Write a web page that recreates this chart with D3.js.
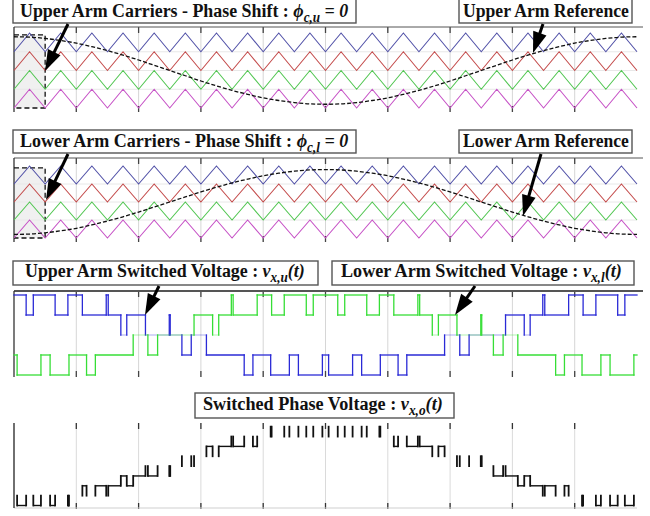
<!DOCTYPE html>
<html><head><meta charset="utf-8">
<script src="https://cdn.jsdelivr.net/npm/d3@7"></script>
<style>body{margin:0;background:#fff}svg{display:block}text{white-space:pre}</style>
</head><body>
<svg id="c" width="650" height="516"></svg>
<script>
// ---------------- data ----------------
const carrierT = [0,0.5,1,1.5,2,2.5,3,3.5,4,4.5,5,5.5,6,6.5,7,7.5,8,8.5,9,9.5,10,10.5,11,11.5,12,12.5,13,13.5,14,14.5,15,15.5,16,16.5,17,17.5,18,18.5,19,19.5,20];
const carrierShape = [0,1,0,1,0,1,0,1,0,1,0,1,0,1,0,1,0,1,0,1,0,1,0,1,0,1,0,1,0,1,0,1,0,1,0,1,0,1,0,1,0];
const carrierLevels = [3,2,1,0];
const carrierColors = ["#5252a8","#c44c4c","#52c652","#c652c6"];
const refT = [0,0.5,1,1.5,2,2.5,3,3.5,4,4.5,5,5.5,6,6.5,7,7.5,8,8.5,9,9.5,10,10.5,11,11.5,12,12.5,13,13.5,14,14.5,15,15.5,16,16.5,17,17.5,18,18.5,19,19.5,20];
const upperRef = [3.80,3.78,3.71,3.60,3.46,3.27,3.06,2.82,2.56,2.28,2.00,1.72,1.44,1.18,0.94,0.73,0.54,0.40,0.29,0.22,0.20,0.22,0.29,0.40,0.54,0.73,0.94,1.18,1.44,1.72,2.00,2.28,2.56,2.82,3.06,3.27,3.46,3.60,3.71,3.78,3.80];
const lowerRef = [0.20,0.22,0.29,0.40,0.54,0.73,0.94,1.18,1.44,1.72,2.00,2.28,2.56,2.82,3.06,3.27,3.46,3.60,3.71,3.78,3.80,3.78,3.71,3.60,3.46,3.27,3.06,2.82,2.56,2.28,2.00,1.72,1.44,1.18,0.94,0.73,0.54,0.40,0.29,0.22,0.20];
const upperSwT = [0,0.39,0.62,1.32,1.73,2.195,2.961,3.025,3.43,3.62,4.22,4.985,5.015,5.39,5.69,6.177,7.39,7.67,8.24,8.84,9.13,9.90,10.10,10.87,11.16,11.76,12.33,12.61,13.823,14.31,14.61,15.78,16.38,16.57,16.975,17.039,17.805,18.27,18.68,19.38,19.61,20];
const upperSwL = [4,3,4,3,4,3,4,3,2,3,2,3,2,1,2,1,0,1,0,1,0,1,0,1,0,1,0,1,2,1,2,3,2,3,4,3,4,3,4,3,4,4];
const lowerSwT = [0,0.10,0.865,1.159,1.765,2.329,2.612,3.826,4.298,4.61,5.78,6.376,6.572,6.977,7.035,7.807,8.27,8.676,9.383,9.607,10.393,10.617,11.324,11.73,12.193,12.965,13.023,13.428,13.624,14.22,14.985,15.015,15.39,15.702,16.174,17.388,17.671,18.235,18.841,19.135,19.90,20];
const lowerSwL = [1,0,1,0,1,0,1,2,1,2,3,2,3,4,3,4,3,4,3,4,3,4,3,4,3,4,3,2,3,2,3,2,1,2,1,0,1,0,1,0,1,1];
const phaseT = [0,0.10,0.39,0.62,0.865,1.159,1.32,1.73,1.765,2.195,2.329,2.612,2.961,3.025,3.43,3.62,3.826,4.22,4.298,4.61,4.985,5.015,5.39,5.69,5.78,6.177,6.376,6.572,6.977,7.035,7.39,7.67,7.807,8.24,8.27,8.676,8.84,9.13,9.383,9.607,9.90,10.10,10.393,10.617,10.87,11.16,11.324,11.73,11.76,12.193,12.33,12.61,12.965,13.023,13.428,13.624,13.823,14.22,14.31,14.61,14.985,15.015,15.39,15.702,15.78,16.174,16.38,16.57,16.975,17.039,17.388,17.671,17.805,18.235,18.27,18.68,18.841,19.135,19.38,19.61,19.90,20];
const phaseL = [-3,-4,-3,-4,-3,-4,-3,-4,-3,-2,-3,-2,-3,-2,-1,-2,-1,0,-1,0,-1,0,1,0,1,2,1,2,3,2,3,2,3,4,3,4,3,4,3,4,3,4,3,4,3,4,3,4,3,2,3,2,3,2,1,2,1,0,1,0,1,0,-1,0,-1,-2,-1,-2,-3,-2,-3,-2,-3,-4,-3,-4,-3,-4,-3,-4,-3,-3];
const gridTicks = [0,2,4,6,8,10,12,14,16,18];

// ---------------- layout ----------------
const svg = d3.select("#c");
const x = d3.scaleLinear().domain([0,20]).range([14,637]);
const panels = [
  {top:27, bot:112, y:d3.scaleLinear().domain([0,4]).range([108,33])},
  {top:158, bot:242, y:d3.scaleLinear().domain([0,4]).range([238,166])},
  {top:291, bot:377, y:d3.scaleLinear().domain([0,4]).range([375,295])},
  {top:423, bot:508, y:d3.scaleLinear().domain([-4,4]).range([505.5,426.7])}
];
const FONT = "'Liberation Serif','Times New Roman',serif";

function grid(p, hLevels, topBorder){
  const g = svg.append("g");
  g.selectAll("line.v").data(gridTicks.slice(1)).join("line")
    .attr("x1",d=>x(d)).attr("x2",d=>x(d)).attr("y1",p.top).attr("y2",p.bot)
    .attr("stroke","#d6d6d6").attr("stroke-width",1);
  g.selectAll("line.h").data(hLevels).join("line")
    .attr("x1",x(0)).attr("x2",x(20)).attr("y1",d=>p.y(d)).attr("y2",d=>p.y(d))
    .attr("stroke","#e8e8e8").attr("stroke-width",1);
  g.selectAll("line.tt").data(gridTicks.slice(1)).join("line")
    .attr("x1",d=>x(d)).attr("x2",d=>x(d)).attr("y1",p.top).attr("y2",p.top+6)
    .attr("stroke","#444").attr("stroke-width",1.3);
  g.selectAll("line.tb").data(gridTicks.slice(1)).join("line")
    .attr("x1",d=>x(d)).attr("x2",d=>x(d)).attr("y1",p.bot-6).attr("y2",p.bot)
    .attr("stroke","#444").attr("stroke-width",1.3);
  if (topBorder) g.append("line").attr("x1",x(0)).attr("x2",643).attr("y1",p.top).attr("y2",p.top)
    .attr("stroke","#555").attr("stroke-width",topBorder);
  g.append("line").attr("x1",x(0)).attr("x2",x(0)).attr("y1",p.top).attr("y2",p.bot)
    .attr("stroke","#333").attr("stroke-width",1.3);
}

// panels 1 & 2 : carriers + references
[[panels[0],upperRef],[panels[1],lowerRef]].forEach(([p,ref])=>{
  svg.append("rect").attr("x",x(0)).attr("y",p.y(3.9)).attr("width",x(1)-x(0)).attr("height",p.y(0)-p.y(3.9))
    .attr("fill","#f0f0f0");
  grid(p,[1,2,3],1);
  svg.append("path").attr("d",`M${x(0)},${p.y(3.9)}H${x(1)}V${p.y(0)}H${x(0)}`)
    .attr("fill","none").attr("stroke","#111").attr("stroke-width",1.3).attr("stroke-dasharray","5,3");
  carrierLevels.forEach((lv,i)=>{
    const line = d3.line().x((d,j)=>x(carrierT[j])).y((d,j)=>p.y(lv+carrierShape[j]));
    svg.append("path").attr("d",line(carrierT)).attr("fill","none")
      .attr("stroke",carrierColors[i]).attr("stroke-width",1.1);
  });
  const rl = d3.line().curve(d3.curveMonotoneX).x((d,j)=>x(refT[j])).y(d=>p.y(d));
  svg.append("path").attr("d",rl(ref)).attr("fill","none").attr("stroke","#111")
    .attr("stroke-width",1.3).attr("stroke-dasharray","4,2");
});

// panel 3 : arm switched voltages (horizontal runs at the middle level appear faint)
grid(panels[2],[],2);
[[upperSwT,upperSwL,"#2a2ad6"],[lowerSwT,lowerSwL,"#36de36"]].forEach(([T,L,c])=>{
  const p = panels[2];
  const segs = [];
  for (let j=0;j<T.length-1;j++){
    segs.push({x1:x(T[j]),x2:x(T[j+1]),y1:p.y(L[j]),y2:p.y(L[j]),o:L[j]===2?0.3:1});
    if (j>0 && L[j]!==L[j-1]) segs.push({x1:x(T[j]),x2:x(T[j]),y1:p.y(L[j-1]),y2:p.y(L[j]),o:1});
  }
  svg.append("g").selectAll("line").data(segs).join("line")
    .attr("x1",d=>d.x1).attr("x2",d=>d.x2).attr("y1",d=>d.y1).attr("y2",d=>d.y2)
    .attr("stroke",c).attr("stroke-opacity",d=>d.o).attr("stroke-width",1.3).attr("stroke-linecap","square");
});

// panel 4 : phase voltage
(function(){
  const p = panels[3];
  const g = svg.append("g");
  g.selectAll("line.v").data(gridTicks.slice(1)).join("line")
    .attr("x1",d=>x(d)).attr("x2",d=>x(d)).attr("y1",p.top).attr("y2",p.bot)
    .attr("stroke","#dadada");
  g.selectAll("line.tt").data(gridTicks.slice(1)).join("line")
    .attr("x1",d=>x(d)).attr("x2",d=>x(d)).attr("y1",p.top).attr("y2",p.top+6)
    .attr("stroke","#333").attr("stroke-width",1.3);
  g.selectAll("line.tb").data(gridTicks.slice(1)).join("line")
    .attr("x1",d=>x(d)).attr("x2",d=>x(d)).attr("y1",p.bot-5).attr("y2",p.bot+1)
    .attr("stroke","#333").attr("stroke-width",1.3);
  g.append("line").attr("x1",x(0)).attr("x2",x(20)).attr("y1",p.bot).attr("y2",p.bot).attr("stroke","#cfcfcf");
  g.append("line").attr("x1",x(0)).attr("x2",x(0)).attr("y1",p.top).attr("y2",p.bot).attr("stroke","#222").attr("stroke-width",1.3);
  // the printed trace only shows its flat runs on some levels; all steps are kept
  const shownLevels = [-4,-2,-1,2];
  const hs = [], vs = [];
  for (let j=0;j<phaseT.length-1;j++){
    if (shownLevels.includes(phaseL[j])) hs.push([phaseT[j],phaseT[j+1],phaseL[j]]);
    if (j>0 && phaseL[j]!==phaseL[j-1]) vs.push([phaseT[j],phaseL[j-1],phaseL[j]]);
  }
  svg.append("g").selectAll("line").data(hs).join("line")
    .attr("x1",d=>x(d[0])).attr("x2",d=>x(d[1])).attr("y1",d=>p.y(d[2])).attr("y2",d=>p.y(d[2]))
    .attr("stroke","#111").attr("stroke-width",1.4);
  svg.append("g").selectAll("line").data(vs).join("line")
    .attr("x1",d=>x(d[0])).attr("x2",d=>x(d[0])).attr("y1",d=>p.y(d[1])).attr("y2",d=>p.y(d[2]))
    .attr("stroke","#111").attr("stroke-width",1.8).attr("stroke-linecap","square");
})();

// ---------------- labels ----------------
function label(box, x0, x1, base, parts){
  svg.append("rect").attr("x",box[0]).attr("y",box[1]).attr("width",box[2]-box[0]).attr("height",box[3]-box[1])
    .attr("fill","#fff").attr("stroke","#555").attr("stroke-width",1.4);
  const t = svg.append("text").attr("font-family",FONT).attr("font-weight","bold").attr("font-size",19).attr("fill","#111");
  let sub=false;
  parts.forEach(([s,k])=>{
    const ts = t.append("tspan").text(s);
    if (k==="i"){ ts.attr("font-style","italic"); if(sub){ts.attr("dy",-5);sub=false;} }
    else if (k==="s"){ ts.attr("font-style","italic").attr("font-size",14).attr("dy",5); sub=true; }
    else if (sub){ ts.attr("dy",-5); sub=false; }
  });
  const w = t.node().getBBox().width;
  t.attr("transform",`translate(${x0},${base}) scale(${(x1-x0)/w},1)`);
}
label([13,-1,356,23],20,349,16.5,[["Upper Arm Carriers - Phase Shift : ","n"],["\u03d5","i"],["c,u","s"],[" = 0","i"]]);
label([459,-1,632,23],463,629,16.5,[["Upper Arm Reference","n"]]);
label([13,130,356,153],20,349,146.5,[["Lower Arm Carriers - Phase Shift : ","n"],["\u03d5","i"],["c,l","s"],[" = 0","i"]]);
label([459,130,632,153],463,629,146.5,[["Lower Arm Reference","n"]]);
label([13,261,318,285],25,305,276.5,[["Upper Arm Switched Voltage : ","n"],["v","i"],["x,u","s"],["(t)","i"]]);
label([332,261,634,285],341,622,276.5,[["Lower Arm Switched Voltage : ","n"],["v","i"],["x,l","s"],["(t)","i"]]);
label([195,393,454,418],203,443,410,[["Switched Phase Voltage : ","n"],["v","i"],["x,o","s"],["(t)","i"]]);

// ---------------- arrows ----------------
function arrow(x1,y1,x2,y2){
  const L=21, W=7;
  const dx=x2-x1, dy=y2-y1, len=Math.hypot(dx,dy), ux=dx/len, uy=dy/len;
  const bx=x2-ux*L, by=y2-uy*L;
  svg.append("line").attr("x1",x1).attr("y1",y1).attr("x2",bx+ux*2).attr("y2",by+uy*2).attr("stroke","#000").attr("stroke-width",3);
  svg.append("path").attr("d",`M${x2},${y2}L${bx-uy*W},${by+ux*W}L${bx+uy*W},${by-ux*W}Z`).attr("fill","#000");
}
arrow(68,24,45,71);
arrow(543,24,533,53);
arrow(68,154,46,200);
arrow(541,154,523,216);
arrow(159,286,145,315);
arrow(475,286,455,315);
</script>
</body></html>
